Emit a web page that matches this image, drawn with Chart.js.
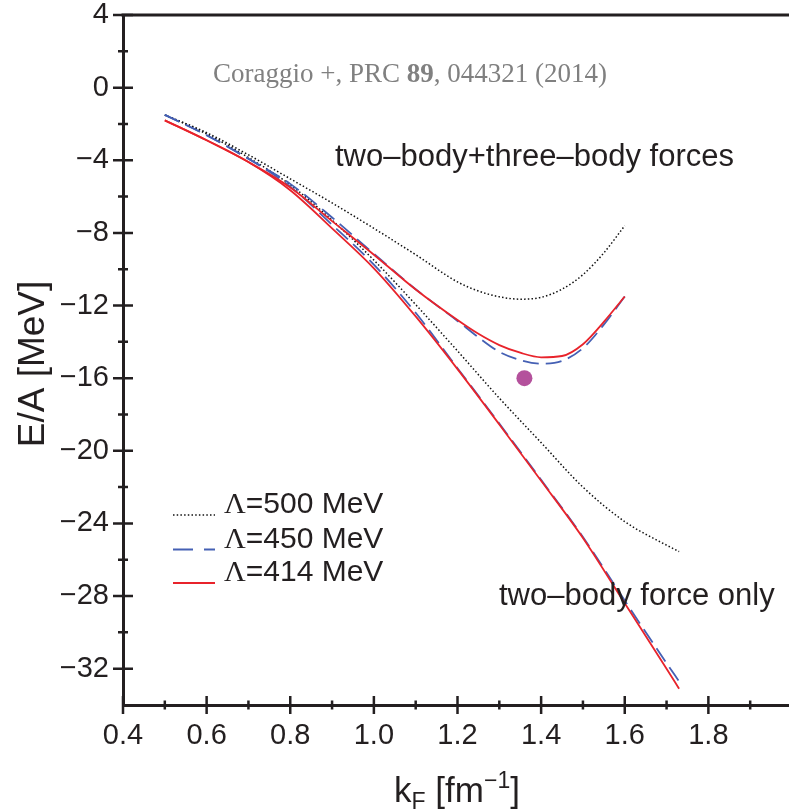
<!DOCTYPE html>
<html>
<head>
<meta charset="utf-8">
<script src="https://cdn.jsdelivr.net/npm/chart.js@4.4.0/dist/chart.umd.min.js"></script>
<style>
  html, body { margin: 0; padding: 0; background: #fff; overflow: hidden; }
  #wrap { width: 800px; height: 812px; }
</style>
</head>
<body>
<div id="wrap"><canvas id="eos" width="800" height="812"></canvas></div>
<script>
// Fermi momentum grids (fm^-1)
const kThree = [0.5, 0.6, 0.7, 0.8, 0.9, 1.0, 1.1, 1.2, 1.25, 1.3, 1.35, 1.4, 1.45, 1.5, 1.55, 1.6];
const kTwo = [0.5, 0.6, 0.7, 0.8, 0.9, 1.0, 1.1, 1.2, 1.3, 1.4, 1.5, 1.6, 1.7, 1.73];

// E/A (MeV) with two-body + three-body forces
const e500Three = [-1.5, -2.48, -3.7, -5.02, -6.35, -7.75, -9.2, -10.7, -11.2, -11.52, -11.65, -11.55, -11.1, -10.3, -9.1, -7.6];
const e450Three = [-1.5, -2.62, -3.92, -5.3, -7.15, -9.15, -11.1, -12.85, -13.75, -14.55, -15.0, -15.2, -15.05, -14.35, -13.05, -11.5];
const e414Three = [-1.8, -2.9, -4.1, -5.5, -7.35, -9.2, -11.12, -12.8, -13.56, -14.18, -14.6, -14.85, -14.78, -14.13, -12.9, -11.5];

// E/A (MeV) with the two-body force only
const e500Two = [-1.5, -2.55, -3.85, -5.35, -7.3, -9.5, -11.95, -14.5, -17.1, -19.55, -22.0, -23.9, -25.2, -25.55];
const e450Two = [-1.5, -2.62, -3.92, -5.45, -7.55, -9.75, -12.4, -15.45, -18.5, -21.6, -24.75, -28.25, -31.7, -32.7];
const e414Two = [-1.8, -2.9, -4.1, -5.65, -7.75, -9.95, -12.6, -15.5, -18.55, -21.65, -24.8, -28.4, -32.0, -33.1];

// empirical saturation point
const satK = [1.36];
const satE = [-16];

const lambdas = [500, 450, 414];

const xTicks = [0.4, 0.6, 0.8, 1.0, 1.2, 1.4, 1.6, 1.8];
const xMinor = [0.5, 0.7, 0.9, 1.1, 1.3, 1.5, 1.7, 1.9];
const yTicks = [4, 0, -4, -8, -12, -16, -20, -24, -28, -32];
const yMinor = [2, -2, -6, -10, -14, -18, -22, -26, -30];

const SANS = '"Liberation Sans", Arial, sans-serif';
const SERIF = '"Liberation Serif", "Times New Roman", serif';
const INK = '#231f20';

const styles = {
  500: { borderColor: '#111111', borderWidth: 1.5, borderDash: [1.5, 2.2] },
  450: { borderColor: '#4560b4', borderWidth: 1.8, borderDash: [16, 7] },
  414: { borderColor: '#e8232b', borderWidth: 1.8, borderDash: [] }
};

const pts = (xs, ys) => xs.map((x, i) => ({ x, y: ys[i] }));

function curve(lam, xs, ys) {
  return Object.assign({
    label: `Λ=${lam} MeV`,
    data: pts(xs, ys),
    pointRadius: 0,
    fill: false,
    cubicInterpolationMode: 'monotone'
  }, styles[lam]);
}

const datasets = [
  {
    type: 'scatter',
    label: 'empirical',
    data: pts(satK, satE),
    pointRadius: 8,
    pointBackgroundColor: '#b4519c',
    pointBorderWidth: 0,
    showLine: false
  },
  curve(414, kThree, e414Three),
  curve(414, kTwo, e414Two),
  curve(450, kThree, e450Three),
  curve(450, kTwo, e450Two),
  curve(500, kThree, e500Three),
  curve(500, kTwo, e500Two)
];

function label(v) {
  return v < 0 ? '−' + Math.abs(v) : String(v);
}

// axis frame, crossing tick marks, texts and the legend
const decor = {
  id: 'decor',
  afterDraw(chart) {
    const { ctx, chartArea: a, scales: { x, y } } = chart;
    ctx.save();
    ctx.strokeStyle = INK;
    ctx.lineWidth = 3;
    ctx.beginPath();
    ctx.moveTo(a.left - 1.5, a.top);
    ctx.lineTo(a.right, a.top);
    ctx.stroke();

    ctx.lineWidth = 2.5;
    ctx.beginPath();
    xTicks.forEach(v => { const p = x.getPixelForValue(v); ctx.moveTo(p, a.bottom - 9); ctx.lineTo(p, a.bottom + 9); });
    xMinor.forEach(v => { const p = x.getPixelForValue(v); ctx.moveTo(p, a.bottom - 4.5); ctx.lineTo(p, a.bottom + 4.5); });
    yTicks.forEach(v => { const p = y.getPixelForValue(v); ctx.moveTo(a.left - 10, p); ctx.lineTo(a.left + 10, p); });
    yMinor.forEach(v => { const p = y.getPixelForValue(v); ctx.moveTo(a.left - 5, p); ctx.lineTo(a.left + 5, p); });
    ctx.stroke();

    // reference line
    ctx.fillStyle = '#808080';
    ctx.textBaseline = 'alphabetic';
    ctx.textAlign = 'left';
    let cx = 213;
    const parts = [['Coraggio +, PRC ', ''], ['89', 'bold '], [', 044321 (2014)', '']];
    parts.forEach(([t, w]) => {
      ctx.font = `${w}27px ${SERIF}`;
      ctx.fillText(t, cx, 82);
      cx += ctx.measureText(t).width;
    });

    ctx.fillStyle = INK;
    ctx.font = `31px ${SANS}`;
    ctx.fillText('two–body+three–body forces', 335, 166);
    ctx.fillText('two–body force only', 499, 605);

    // legend
    const rows = [513, 547.5, 581];
    lambdas.forEach((lam, i) => {
      const s = styles[lam];
      ctx.save();
      ctx.strokeStyle = s.borderColor;
      ctx.lineWidth = s.borderWidth;
      ctx.setLineDash(lam === 450 ? [20, 11] : s.borderDash);
      ctx.beginPath();
      ctx.moveTo(173, rows[i] + 2);
      ctx.lineTo(215, rows[i] + 2);
      ctx.stroke();
      ctx.restore();
      ctx.fillStyle = INK;
      ctx.font = `30px ${SERIF}`;
      ctx.fillText('Λ', 224, rows[i]);
      const w = ctx.measureText('Λ').width;
      ctx.font = `30px ${SANS}`;
      ctx.fillText(`=${lam} MeV`, 224 + w, rows[i]);
    });

    // y axis title
    ctx.save();
    ctx.translate(44, 364);
    ctx.rotate(-Math.PI / 2);
    ctx.textAlign = 'center';
    ctx.font = `37px ${SANS}`;
    ctx.fillText('E/A [MeV]', 0, 0);
    ctx.restore();

    // x axis title: k_F [fm^-1]
    const seg = [
      ['k', 35, 0], ['F', 23, 7], [' [fm', 35, 0], ['−1', 23, -14], [']', 35, 0]
    ];
    let total = 0;
    seg.forEach(([t, s]) => { ctx.font = `${s}px ${SANS}`; total += ctx.measureText(t).width; });
    let tx = 457 - total / 2;
    seg.forEach(([t, s, dy]) => {
      ctx.font = `${s}px ${SANS}`;
      ctx.fillText(t, tx, 802 + dy);
      tx += ctx.measureText(t).width;
    });
    ctx.restore();
  }
};

new Chart(document.getElementById('eos'), {
  type: 'line',
  data: { datasets },
  options: {
    responsive: false,
    animation: false,
    layout: { padding: { top: 15, right: 5, left: 0, bottom: 0 } },
    plugins: { legend: { display: false }, tooltip: { enabled: false } },
    scales: {
      x: {
        type: 'linear',
        min: 0.4,
        max: 2.0,
        afterBuildTicks: s => { s.ticks = xTicks.map(v => ({ value: v })); },
        afterFit: s => { s.height = 107; s.paddingLeft = 0; s.paddingRight = 0; },
        grid: { display: false, drawTicks: false },
        border: { display: true, color: INK, width: 3 },
        ticks: {
          padding: 16,
          maxRotation: 0,
          autoSkip: false,
          color: INK,
          font: { family: SANS, size: 29, lineHeight: 1 },
          callback: v => v.toFixed(1)
        }
      },
      y: {
        min: -34,
        max: 4,
        afterBuildTicks: s => { s.ticks = yTicks.map(v => ({ value: v })); },
        afterFit: s => { s.width = 123; s.paddingTop = 0; s.paddingBottom = 0; },
        grid: { display: false, drawTicks: false },
        border: { display: true, color: INK, width: 3 },
        ticks: {
          padding: 14,
          autoSkip: false,
          color: INK,
          font: { family: SANS, size: 29, lineHeight: 1 },
          callback: v => label(v)
        }
      }
    }
  },
  plugins: [decor]
});
</script>
</body>
</html>
